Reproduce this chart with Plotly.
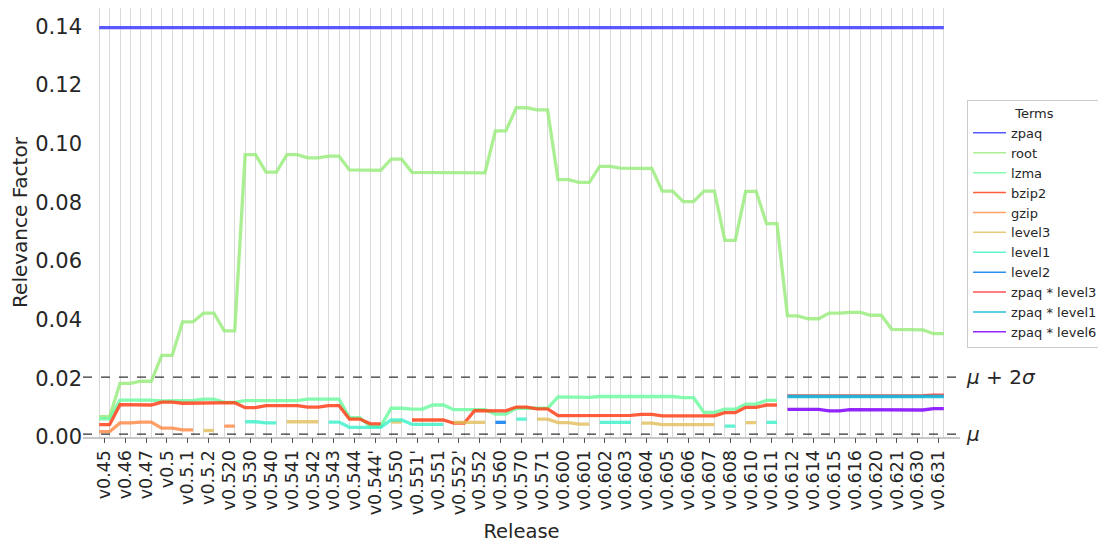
import plotly.graph_objects as go

releases = ["v0.45", "v0.46", "v0.47", "v0.5", "v0.5.1", "v0.5.2", "v0.520", "v0.530",
            "v0.540", "v0.541", "v0.542", "v0.543", "v0.544", "v0.544'", "v0.550",
            "v0.551'", "v0.551", "v0.552'", "v0.552", "v0.560", "v0.570", "v0.571",
            "v0.600", "v0.601", "v0.602", "v0.603", "v0.604", "v0.605", "v0.606",
            "v0.607", "v0.608", "v0.610", "v0.611", "v0.612", "v0.614", "v0.615",
            "v0.616", "v0.620", "v0.621", "v0.630", "v0.631"]

N = None
zpaq = [0.1395, 0.1395, 0.1395, 0.1395, 0.1395, 0.1395, 0.1395, 0.1395, 0.1395, 0.1395,
        0.1395, 0.1395, 0.1395, 0.1395, 0.1395, 0.1395, 0.1395, 0.1395, 0.1395, 0.1395,
        0.1395, 0.1395, 0.1395, 0.1395, 0.1395, 0.1395, 0.1395, 0.1395, 0.1395, 0.1395,
        0.1395, 0.1395, 0.1395, 0.1395, 0.1395, 0.1395, 0.1395, 0.1395, 0.1395, 0.1395,
        0.1395]
root = [0.0069, 0.0183, 0.0190, 0.0278, 0.0392, 0.0422, 0.0362, 0.0962, 0.0903, 0.0962,
        0.0951, 0.0957, 0.0910, 0.0909, 0.0947, 0.0902, 0.0902, 0.0900, 0.0900, 0.1043,
        0.1122, 0.1115, 0.0877, 0.0868, 0.0922, 0.0916, 0.0915, 0.0838, 0.0802, 0.0838,
        0.0670, 0.0837, 0.0727, 0.0413, 0.0403, 0.0422, 0.0425, 0.0415, 0.0367, 0.0365,
        0.0352]
lzma = [0.0062, 0.0126, 0.0126, 0.0123, 0.0125, 0.0129, 0.0118, 0.0124, 0.0124, 0.0124,
        0.0129, 0.0129, 0.0066, 0.0036, 0.0098, 0.0095, 0.0109, 0.0093, 0.0093, 0.0078,
        0.0098, 0.0098, 0.0137, 0.0135, 0.0138, 0.0138, 0.0139, 0.0138, 0.0134, 0.0084,
        0.0095, 0.0112, 0.0125, N, N, N, N, N, N, N, N]
bzip2 = [0.0042, 0.0110, 0.0109, 0.0119, 0.0115, 0.0117, 0.0117, 0.0100, 0.0107, 0.0107,
         0.0102, 0.0107, 0.0061, 0.0045, N, 0.0058, 0.0058, 0.0047, 0.0090, 0.0089,
         0.0102, 0.0096, 0.0073, 0.0074, 0.0074, 0.0074, 0.0077, 0.0072, 0.0070, 0.0072,
         0.0083, 0.0101, 0.0109, N, N, N, N, N, N, N, N]
gzip = [0.0018, 0.0048, 0.0051, 0.0030, 0.0024, N, 0.0037, N, N, N,
        N, N, N, N, N, N, N, N, N, N,
        N, N, N, N, N, N, N, N, N, N,
        N, N, N, N, N, N, N, N, N, N, N]
level3 = [N, N, N, N, N, 0.0022, N, N, N, 0.0052,
          0.0052, N, N, N, 0.0051, N, N, 0.0050, 0.0050, N,
          N, 0.0061, 0.0049, 0.0044, N, N, 0.0047, 0.0042, 0.0041, 0.0042,
          N, 0.0049, N, N, N, N, N, N, N, N, N]
level1 = [N, N, N, N, N, N, N, 0.0052, 0.0048, N,
          N, 0.0051, 0.0033, 0.0033, 0.0058, 0.0043, 0.0043, N, N, N,
          0.0061, N, N, N, 0.0050, 0.0050, N, N, N, N,
          0.0037, N, 0.0050, N, N, N, N, N, N, N, N]
level2 = [N, N, N, N, N, N, N, N, N, N,
          N, N, N, N, N, N, N, N, N, 0.0050,
          N, N, N, N, N, N, N, N, N, N,
          N, N, N, N, N, N, N, N, N, N, N]
zpaq_level3 = [N] * 33 + [0.0140, 0.0140, 0.0139, 0.0139, 0.0139, 0.0139, 0.0141, 0.0143]
zpaq_level1 = [N] * 33 + [0.0138, 0.0138, 0.0137, 0.0138, 0.0138, 0.0138, 0.0137, 0.0138]
zpaq_level6 = [N] * 33 + [0.0094, 0.0094, 0.0089, 0.0093, 0.0093, 0.0093, 0.0092, 0.0097]

mu = 0.001
mu_2sigma = 0.0204

series = [
    ("zpaq", zpaq, "rgba(60,60,255,0.85)"),
    ("root", root, "rgba(150,235,120,0.8)"),
    ("lzma", lzma, "rgba(110,250,160,0.85)"),
    ("bzip2", bzip2, "rgba(255,65,25,0.85)"),
    ("gzip", gzip, "rgba(255,135,65,0.8)"),
    ("level3", level3, "rgba(225,190,90,0.8)"),
    ("level1", level1, "rgba(55,240,200,0.8)"),
    ("level2", level2, "rgba(20,130,240,0.9)"),
    ("zpaq * level3", zpaq_level3, "rgba(255,40,40,0.8)"),
    ("zpaq * level1", zpaq_level1, "rgba(20,185,220,0.9)"),
    ("zpaq * level6", zpaq_level6, "rgba(128,0,255,0.85)"),
]


def expand(vals):
    xs, ys = [], []
    for i, v in enumerate(vals):
        xs += [2 * i, 2 * i + 1]
        ys += [v, v]
    return xs, ys


fig = go.Figure()
for name, vals, color in series:
    xs, ys = expand(vals)
    fig.add_trace(go.Scatter(x=xs, y=ys, mode="lines", name=name, showlegend=False,
                             line=dict(color=color, width=3.3), connectgaps=False))
# legend entries with thin sample lines
for name, vals, color in series:
    fig.add_trace(go.Scatter(x=[None], y=[None], mode="lines", name=name,
                             line=dict(color=color, width=1.5), hoverinfo="skip"))

npts = 2 * len(releases)
xr = [-1.55, npts - 1 + 1.55]
font_color = "#262626"

fig.update_layout(
    width=1106, height=543,
    margin=dict(l=75, r=154, t=0, b=114, autoexpand=False),
    paper_bgcolor="white", plot_bgcolor="white",
    font=dict(family="DejaVu Sans", color=font_color),
    showlegend=True,
    legend=dict(x=1.008, y=0.7855, xanchor="left", yanchor="top",
                bordercolor="#cccccc", borderwidth=1,
                font=dict(size=13, color=font_color),
                title=dict(text="Terms", side="top center", font=dict(size=13)),
                itemwidth=33, tracegroupgap=0),
    xaxis=dict(range=xr, tickmode="array", tickvals=list(range(npts)), showgrid=True,
               gridcolor="#d9d9d9", gridwidth=1.4, showticklabels=False, ticks="",
               zeroline=False, showline=True, linecolor="#c8c8c8", linewidth=1.5,
               automargin=False),
    xaxis2=dict(range=xr, overlaying="x", side="bottom", showgrid=False,
                tickmode="array", tickvals=[2 * i + 0.5 for i in range(len(releases))],
                ticktext=releases, tickangle=-90, ticks="outside", ticklen=5,
                tickcolor="#555555", tickfont=dict(size=17.5, color=font_color),
                title=dict(text="Release", font=dict(size=19.5, color=font_color), standoff=10),
                zeroline=False, automargin=False),
    yaxis=dict(range=[0, 0.1462], tickvals=[0, 0.02, 0.04, 0.06, 0.08, 0.10, 0.12, 0.14],
               tickformat=".2f", showgrid=False, zeroline=False, automargin=False,
               tickfont=dict(size=21, color=font_color),
               title=dict(text="Relevance Factor", font=dict(size=20, color=font_color))),
)

# invisible trace to activate xaxis2
fig.add_trace(go.Scatter(x=[0], y=[None], xaxis="x2", showlegend=False, hoverinfo="skip"))

for val in (mu_2sigma, mu):
    fig.add_shape(type="line", xref="paper", x0=0, x1=1, yref="y", y0=val, y1=val,
                  line=dict(color="#333333", width=1.2, dash="dash"))

fig.add_annotation(xref="paper", x=1.004, y=mu_2sigma, yref="y", xanchor="left",
                   text="<i>μ</i> + 2<i>σ</i>", showarrow=False,
                   font=dict(size=20, color=font_color))
fig.add_annotation(xref="paper", x=1.004, y=mu, yref="y", xanchor="left",
                   text="<i>μ</i>", showarrow=False, font=dict(size=20, color=font_color))

fig.write_html("out.html")
